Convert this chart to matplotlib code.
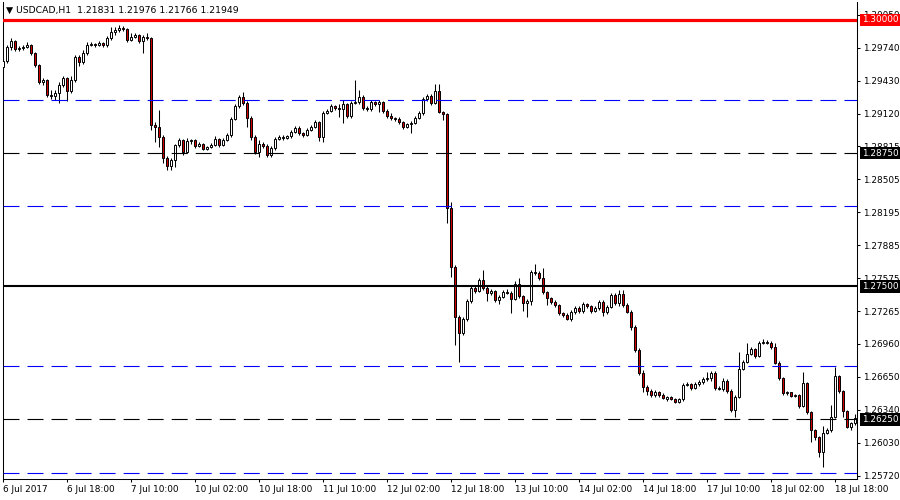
import matplotlib
matplotlib.use('Agg')
import matplotlib.pyplot as plt
import numpy as np

# USDCAD H1 candles, 6 Jul 2017 02:00 .. 18 Jul 2017 23:00
opens = [
    1.29559, 1.29615, 1.29747, 1.29803, 1.29728, 1.29737, 1.29747, 1.29765, 1.29690, 1.29578,
    1.29418, 1.29437, 1.29296, 1.29287, 1.29315, 1.29390, 1.29456, 1.29334, 1.29437, 1.29653,
    1.29606, 1.29690, 1.29765, 1.29775, 1.29765, 1.29784, 1.29765, 1.29831, 1.29888, 1.29906,
    1.29925, 1.29916, 1.29812, 1.29841, 1.29859, 1.29803, 1.29841, 1.29831, 1.29014, 1.28995,
    1.28901, 1.28704, 1.28629, 1.28685, 1.28826, 1.28873, 1.28760, 1.28864, 1.28873, 1.28817,
    1.28835, 1.28788, 1.28807, 1.28826, 1.28882, 1.28826, 1.28873, 1.28920, 1.29071, 1.29193,
    1.29277, 1.29221, 1.29080, 1.28901, 1.28760, 1.28835, 1.28817, 1.28732, 1.28798, 1.28882,
    1.28901, 1.28892, 1.28911, 1.28948, 1.28986, 1.28939, 1.28920, 1.28967, 1.28995, 1.29042,
    1.28901, 1.29127, 1.29146, 1.29193, 1.29174, 1.29165, 1.29211, 1.29099, 1.29221, 1.29230,
    1.29277, 1.29174, 1.29165, 1.29230, 1.29211, 1.29230, 1.29146, 1.29099, 1.29080, 1.29071,
    1.29042, 1.28995, 1.29024, 1.29033, 1.29080, 1.29127, 1.29258, 1.29287, 1.29221, 1.29334,
    1.29136, 1.29118, 1.28235, 1.27681, 1.27211, 1.27061, 1.27192, 1.27362, 1.27484, 1.27456,
    1.27559, 1.27484, 1.27437, 1.27456, 1.27371, 1.27399, 1.27446, 1.27437, 1.27380, 1.27521,
    1.27409, 1.27343, 1.27362, 1.27634, 1.27625, 1.27578, 1.27446, 1.27390, 1.27352, 1.27324,
    1.27249, 1.27230, 1.27192, 1.27258, 1.27296, 1.27268, 1.27333, 1.27315, 1.27268, 1.27296,
    1.27352, 1.27258, 1.27305, 1.27418, 1.27343, 1.27427, 1.27324, 1.27258, 1.27117, 1.26901,
    1.26686, 1.26554, 1.26517, 1.26479, 1.26507, 1.26479, 1.26441, 1.26460, 1.26441, 1.26413,
    1.26441, 1.26573, 1.26582, 1.26545, 1.26582, 1.26601, 1.26629, 1.26639, 1.26686, 1.26545,
    1.26535, 1.26611, 1.26517, 1.26338, 1.26460, 1.26723, 1.26789, 1.26864, 1.26911, 1.26845,
    1.26967, 1.26976, 1.26967, 1.26929, 1.26780, 1.26639, 1.26498, 1.26507, 1.26470, 1.26479,
    1.26376, 1.26592, 1.26319, 1.26150, 1.26084, 1.25944, 1.26122, 1.26150, 1.26272, 1.26658,
    1.26517, 1.26329, 1.26178, 1.26216]
highs = [
    1.29643, 1.29765, 1.29831, 1.29812, 1.29756, 1.29765, 1.29794, 1.29775, 1.29700, 1.29587,
    1.29456, 1.29446, 1.29343, 1.29343, 1.29418, 1.29475, 1.29465, 1.29475, 1.29672, 1.29672,
    1.29719, 1.29794, 1.29794, 1.29784, 1.29803, 1.29794, 1.29850, 1.29935, 1.29935, 1.29953,
    1.29944, 1.29925, 1.29878, 1.29878, 1.29869, 1.29859, 1.29878, 1.29841, 1.29042, 1.29155,
    1.28920, 1.28723, 1.28704, 1.28835, 1.28892, 1.28882, 1.28892, 1.28882, 1.28882, 1.28854,
    1.28845, 1.28817, 1.28845, 1.28911, 1.28892, 1.28892, 1.28939, 1.29090, 1.29211, 1.29296,
    1.29324, 1.29240, 1.29099, 1.28920, 1.28873, 1.28854, 1.28835, 1.28817, 1.28901, 1.28920,
    1.28920, 1.28920, 1.28967, 1.29005, 1.29005, 1.28948, 1.28986, 1.29014, 1.29061, 1.29052,
    1.29146, 1.29165, 1.29211, 1.29202, 1.29211, 1.29249, 1.29221, 1.29240, 1.29437, 1.29343,
    1.29296, 1.29193, 1.29249, 1.29240, 1.29249, 1.29240, 1.29165, 1.29127, 1.29090, 1.29090,
    1.29052, 1.29033, 1.29052, 1.29099, 1.29146, 1.29277, 1.29305, 1.29305, 1.29399, 1.29399,
    1.29146, 1.29127, 1.28291, 1.27700, 1.27230, 1.27211, 1.27380, 1.27512, 1.27503, 1.27578,
    1.27653, 1.27503, 1.27474, 1.27465, 1.27418, 1.27465, 1.27474, 1.27456, 1.27550, 1.27578,
    1.27418, 1.27380, 1.27653, 1.27709, 1.27643, 1.27672, 1.27456, 1.27399, 1.27371, 1.27333,
    1.27258, 1.27249, 1.27277, 1.27315, 1.27315, 1.27352, 1.27343, 1.27324, 1.27315, 1.27371,
    1.27371, 1.27324, 1.27437, 1.27437, 1.27465, 1.27465, 1.27343, 1.27277, 1.27136, 1.26920,
    1.26714, 1.26573, 1.26535, 1.26526, 1.26517, 1.26498, 1.26470, 1.26470, 1.26451, 1.26451,
    1.26592, 1.26601, 1.26592, 1.26601, 1.26620, 1.26648, 1.26695, 1.26705, 1.26705, 1.26564,
    1.26639, 1.26629, 1.26535, 1.26479, 1.26882, 1.26808, 1.26967, 1.26929, 1.26920, 1.26986,
    1.27005, 1.26995, 1.26986, 1.26967, 1.26798, 1.26648, 1.26517, 1.26507, 1.26489, 1.26489,
    1.26695, 1.26601, 1.26329, 1.26160, 1.26094, 1.26188, 1.26169, 1.26385, 1.26742, 1.26667,
    1.26526, 1.26338, 1.26225, 1.26300]
lows = [
    1.29531, 1.29596, 1.29719, 1.29709, 1.29709, 1.29719, 1.29737, 1.29672, 1.29559, 1.29399,
    1.29390, 1.29277, 1.29258, 1.29249, 1.29221, 1.29371, 1.29240, 1.29315, 1.29418, 1.29568,
    1.29587, 1.29672, 1.29756, 1.29747, 1.29756, 1.29747, 1.29747, 1.29812, 1.29859, 1.29888,
    1.29897, 1.29794, 1.29803, 1.29831, 1.29784, 1.29690, 1.29812, 1.28967, 1.28854, 1.28807,
    1.28657, 1.28592, 1.28592, 1.28619, 1.28807, 1.28732, 1.28751, 1.28835, 1.28798, 1.28807,
    1.28779, 1.28779, 1.28798, 1.28817, 1.28807, 1.28817, 1.28864, 1.28901, 1.29061, 1.29174,
    1.29202, 1.28995, 1.28873, 1.28742, 1.28713, 1.28798, 1.28713, 1.28713, 1.28779, 1.28873,
    1.28873, 1.28882, 1.28892, 1.28939, 1.28920, 1.28901, 1.28911, 1.28958, 1.28986, 1.28864,
    1.28854, 1.29118, 1.29136, 1.29155, 1.29090, 1.29033, 1.29080, 1.29080, 1.29211, 1.29211,
    1.29155, 1.29146, 1.29146, 1.29193, 1.29136, 1.29127, 1.29080, 1.29061, 1.29052, 1.29024,
    1.28977, 1.28986, 1.28939, 1.29024, 1.29071, 1.29108, 1.29240, 1.29202, 1.29211, 1.29127,
    1.29061, 1.28094, 1.27587, 1.26948, 1.26789, 1.27042, 1.27174, 1.27343, 1.27437, 1.27446,
    1.27465, 1.27362, 1.27418, 1.27352, 1.27333, 1.27390, 1.27427, 1.27249, 1.27371, 1.27390,
    1.27268, 1.27211, 1.27324, 1.27606, 1.27559, 1.27427, 1.27324, 1.27333, 1.27305, 1.27230,
    1.27211, 1.27183, 1.27174, 1.27239, 1.27249, 1.27249, 1.27296, 1.27249, 1.27258, 1.27277,
    1.27221, 1.27239, 1.27296, 1.27324, 1.27315, 1.27305, 1.27249, 1.27089, 1.26882, 1.26667,
    1.26507, 1.26479, 1.26460, 1.26460, 1.26460, 1.26441, 1.26423, 1.26432, 1.26404, 1.26404,
    1.26423, 1.26564, 1.26526, 1.26535, 1.26564, 1.26582, 1.26611, 1.26611, 1.26526, 1.26526,
    1.26517, 1.26498, 1.26319, 1.26272, 1.26451, 1.26714, 1.26780, 1.26854, 1.26826, 1.26835,
    1.26958, 1.26958, 1.26911, 1.26770, 1.26620, 1.26479, 1.26479, 1.26460, 1.26460, 1.26357,
    1.26366, 1.26300, 1.26037, 1.26056, 1.25897, 1.25803, 1.26113, 1.26131, 1.26263, 1.26498,
    1.26272, 1.26169, 1.26150, 1.26197]
closes = [
    1.29615, 1.29747, 1.29803, 1.29728, 1.29737, 1.29747, 1.29765, 1.29690, 1.29578, 1.29418,
    1.29437, 1.29296, 1.29287, 1.29315, 1.29390, 1.29456, 1.29334, 1.29437, 1.29653, 1.29606,
    1.29690, 1.29765, 1.29775, 1.29765, 1.29784, 1.29765, 1.29831, 1.29888, 1.29906, 1.29925,
    1.29916, 1.29812, 1.29841, 1.29859, 1.29803, 1.29841, 1.29831, 1.29014, 1.28995, 1.28901,
    1.28704, 1.28629, 1.28685, 1.28826, 1.28873, 1.28760, 1.28864, 1.28873, 1.28817, 1.28835,
    1.28788, 1.28807, 1.28826, 1.28882, 1.28826, 1.28873, 1.28920, 1.29071, 1.29193, 1.29277,
    1.29221, 1.29080, 1.28901, 1.28760, 1.28835, 1.28817, 1.28732, 1.28798, 1.28882, 1.28901,
    1.28892, 1.28911, 1.28948, 1.28986, 1.28939, 1.28920, 1.28967, 1.28995, 1.29042, 1.28901,
    1.29127, 1.29146, 1.29193, 1.29174, 1.29165, 1.29211, 1.29099, 1.29221, 1.29230, 1.29277,
    1.29174, 1.29165, 1.29230, 1.29211, 1.29230, 1.29146, 1.29099, 1.29080, 1.29071, 1.29042,
    1.28995, 1.29024, 1.29033, 1.29080, 1.29127, 1.29258, 1.29287, 1.29221, 1.29334, 1.29136,
    1.29118, 1.28235, 1.27681, 1.27211, 1.27061, 1.27192, 1.27362, 1.27484, 1.27456, 1.27559,
    1.27484, 1.27437, 1.27456, 1.27371, 1.27399, 1.27446, 1.27437, 1.27380, 1.27521, 1.27409,
    1.27343, 1.27362, 1.27634, 1.27625, 1.27578, 1.27446, 1.27390, 1.27352, 1.27324, 1.27249,
    1.27230, 1.27192, 1.27258, 1.27296, 1.27268, 1.27333, 1.27315, 1.27268, 1.27296, 1.27352,
    1.27258, 1.27305, 1.27418, 1.27343, 1.27427, 1.27324, 1.27258, 1.27117, 1.26901, 1.26686,
    1.26554, 1.26517, 1.26479, 1.26507, 1.26479, 1.26451, 1.26460, 1.26441, 1.26413, 1.26441,
    1.26573, 1.26582, 1.26545, 1.26582, 1.26601, 1.26629, 1.26639, 1.26686, 1.26545, 1.26535,
    1.26611, 1.26517, 1.26338, 1.26460, 1.26723, 1.26789, 1.26864, 1.26911, 1.26845, 1.26967,
    1.26976, 1.26967, 1.26929, 1.26780, 1.26639, 1.26498, 1.26507, 1.26470, 1.26479, 1.26376,
    1.26592, 1.26319, 1.26150, 1.26084, 1.25944, 1.26122, 1.26150, 1.26272, 1.26658, 1.26517,
    1.26329, 1.26178, 1.26216, 1.26263]

# horizontal levels drawn on the chart
level_prices = [1.30000, 1.29250, 1.28750, 1.28250, 1.27500, 1.26750, 1.26250, 1.25750]
level_colors = ['#ff0000', '#0000ff', '#000000', '#0000ff', '#000000', '#0000ff', '#000000', '#0000ff']
level_solid = [True, False, False, False, True, False, False, False]
tagged_levels = [1.30000, 1.28750, 1.27500, 1.26250]
tag_colors = ['#ff0000', '#000000', '#000000', '#000000']

price_ticks = [1.30050, 1.29740, 1.29430, 1.29120, 1.28815, 1.28505, 1.28195, 1.27885,
               1.27575, 1.27265, 1.26960, 1.26650, 1.26340, 1.26030, 1.25720]
time_labels = ['6 Jul 2017', '6 Jul 18:00', '7 Jul 10:00', '10 Jul 02:00', '10 Jul 18:00',
               '11 Jul 10:00', '12 Jul 02:00', '12 Jul 18:00', '13 Jul 10:00', '14 Jul 02:00',
               '14 Jul 18:00', '17 Jul 10:00', '18 Jul 02:00', '18 Jul 18:00']
header = '\u25bc USDCAD,H1  1.21831 1.21976 1.21766 1.21949'

plt.rcParams['font.family'] = ['DejaVu Sans']
plt.rcParams['lines.scale_dashes'] = False
FS = 6.4

fig = plt.figure(figsize=(9, 5), dpi=100)
ax = fig.add_axes([2.5/900, 21/500, 854.5/900, 477/500])

o = np.array(opens); h = np.array(highs); l = np.array(lows); c = np.array(closes)
x = np.arange(len(c))
up = c >= o

#### candles ####
ax.vlines(x, l, h, color='black', linewidth=0.75, zorder=2)
ax.bar(x, np.abs(c-o), bottom=np.minimum(o, c), width=0.68,
       color=np.where(up, 'white', '#d00000'), edgecolor='black', linewidth=0.7, zorder=3)

#### levels ####
for p, col, solid in zip(level_prices, level_colors, level_solid):
    if solid:
        lw = 2.3 if col == '#ff0000' else 1.5
        ax.axhline(p, color=col, linewidth=lw, zorder=4)
    else:
        ax.axhline(p, color=col, linewidth=0.8, linestyle=(0, (11.5, 5.8)), zorder=4)

ax.set_xlim(-0.125, 213.5)
ax.set_ylim(1.25690, 1.30169)

#### axes ####
ax.yaxis.tick_right()
ax.set_yticks(price_ticks)
ax.set_yticklabels(['%.5f' % v for v in price_ticks])
ax.set_xticks(np.arange(0, len(c), 16)[:len(time_labels)])
ax.set_xticklabels(time_labels)
for lbl in ax.get_xticklabels():
    lbl.set_ha('left')
ax.tick_params(axis='both', direction='out', length=2.2, width=0.75, labelsize=FS, colors='black')
ax.tick_params(axis='y', pad=2.0)
ax.tick_params(axis='x', pad=2)
ax.spines['top'].set_visible(False)
for s in ['left', 'right', 'bottom']:
    ax.spines[s].set_linewidth(0.75)

for p, fc in zip(tagged_levels, tag_colors):
    ax.annotate('%.5f' % p, xy=(1, p), xycoords=('axes fraction', 'data'),
                xytext=(3.6, 0), textcoords='offset points', ha='left', va='center',
                color='white', fontsize=FS, annotation_clip=False, zorder=10,
                bbox=dict(boxstyle='square,pad=0.2', fc=fc, ec='none'))

fig.text(6/900, 1-10/500, header, fontsize=FS+0.3, va='center', ha='left')

fig.savefig('out.png', dpi=100, facecolor='white')
